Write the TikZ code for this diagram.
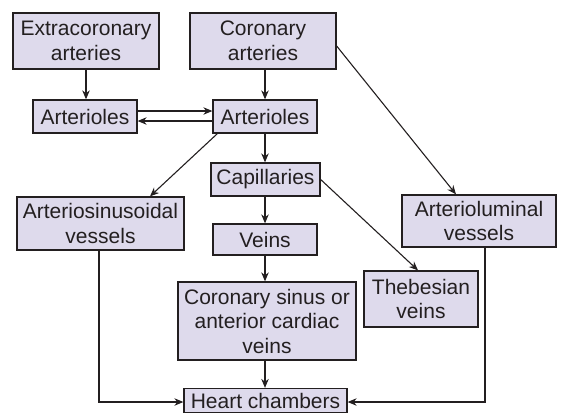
\documentclass[tikz,border=0pt]{standalone}
\usepackage{fontspec}
\setmainfont{Liberation Sans}
\usetikzlibrary{arrows.meta}
\definecolor{boxfill}{RGB}{222,218,236}
\definecolor{ink}{RGB}{35,31,32}
\begin{document}
\begin{tikzpicture}[x=1pt,y=-1pt,
  box/.style={draw=ink,fill=boxfill,line width=1.3pt,inner sep=0pt,align=center,
    text=ink,font=\fontsize{21}{24.5}\selectfont},
  arr/.style={draw=ink,line width=1.1pt,-{Stealth[length=9pt,width=7.5pt]}}]
\useasboundingbox (0,0) rectangle (566,413);
\node[box,minimum width=146pt,minimum height=56pt] (ext) at (86,41) {Extracoronary\\arteries};
\node[box,minimum width=146pt,minimum height=56pt] (cor) at (263,41) {Coronary\\arteries};
\node[box,minimum width=104pt,minimum height=33pt] (artL) at (85,116.5) {Arterioles};
\node[box,minimum width=104pt,minimum height=33pt] (artC) at (265,116.5) {Arterioles};
\node[box,minimum width=109pt,minimum height=33pt] (cap) at (265.5,179.5) {Capillaries};
\node[box,minimum width=167pt,minimum height=53pt] (asv) at (100.5,223.5) {Arteriosinusoidal\\vessels};
\node[box,minimum width=104pt,minimum height=31pt] (veins) at (265,239.5) {Veins};
\node[box,minimum width=178pt,minimum height=78pt] (cs) at (267,321) {Coronary sinus or\\anterior cardiac\\veins};
\node[box,minimum width=163pt,minimum height=24pt] (heart) at (265.5,400.5) {Heart chambers};
\node[box,minimum width=154pt,minimum height=52pt] (alv) at (479,221) {Arterioluminal\\vessels};
\node[box,minimum width=114pt,minimum height=56pt] (theb) at (421,299) {Thebesian\\veins};
\draw[arr] (ext.south) -- (ext.south |- artL.north);
\draw[arr] (artC.north |- cor.south) -- (artC.north);
\draw[arr] ([yshift=5.5pt]artL.east) -- ([yshift=5.5pt]artC.west);
\draw[arr] ([yshift=-4.5pt]artC.west) -- ([yshift=-4.5pt]artL.east);
\draw[arr] ([xshift=5pt]artC.south west) -- ([xshift=49.5pt]asv.north);
\draw[arr] (artC.south) -- (artC.south |- cap.north);
\draw[arr] ([yshift=-5pt]cor.east) -- ([xshift=-23pt]alv.north);
\draw[arr] (cap.east) -- ([xshift=-3pt]theb.north);
\draw[arr] (cap.south) -- (cap.south -| veins.north) -- (veins.north) ;
\draw[arr] (veins.south) -- (veins.south |- cs.north);
\draw[arr] (veins.south |- cs.south) -- (veins.south |- heart.north);
\draw[arr] ([xshift=-1.5pt]asv.south) |- ([yshift=-1.5pt]heart.west);
\draw[arr] ([xshift=6pt]alv.south) |- ([yshift=-1.5pt]heart.east);
\end{tikzpicture}
\end{document}
